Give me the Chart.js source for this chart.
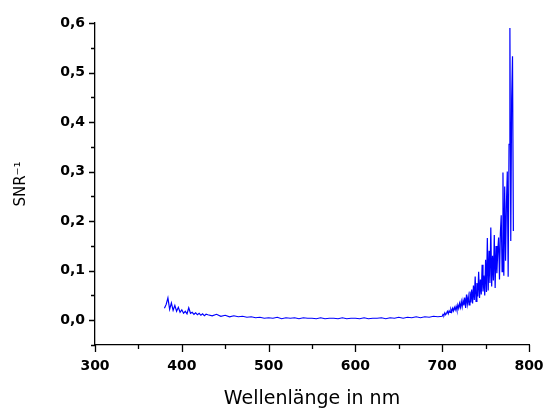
<!DOCTYPE html>
<html>
<head>
<meta charset="utf-8">
<title>SNR</title>
<script src="https://cdn.jsdelivr.net/npm/chart.js@4"></script>
<style>
    html, body { margin: 0; padding: 0; background: #fff; }
    #wrap { width: 547px; height: 410px; }
</style>
</head>
<body>
<div id="wrap"><canvas id="snrChart"></canvas></div>
<script>
// --- data ---
// blue edge: 2 nm steps
const waveStart = [380, 382, 384, 386, 388, 390, 392, 394, 396, 398, 400, 402, 404, 406, 408, 410, 412, 414, 416, 418, 420, 422, 424, 426, 428];
const snrStart  = [0.024, 0.032, 0.045, 0.022, 0.035, 0.020, 0.030, 0.018, 0.026, 0.016, 0.021, 0.014, 0.018, 0.013, 0.025, 0.014, 0.016, 0.012, 0.015, 0.011, 0.014, 0.010, 0.013, 0.009, 0.012];

// flat middle: 5 nm steps
const waveMid = [430, 435, 440, 445, 450, 455, 460, 465, 470, 475, 480, 485, 490, 495, 500, 505, 510, 515, 520, 525, 530, 535, 540, 545, 550, 555, 560, 565, 570, 575, 580, 585, 590, 595, 600, 605, 610, 615, 620, 625, 630, 635, 640, 645, 650, 655, 660, 665, 670, 675, 680, 685, 690, 695];
const snrMid  = [0.011, 0.009, 0.012, 0.008, 0.010, 0.007, 0.009, 0.007, 0.008, 0.006, 0.007, 0.005, 0.006, 0.004, 0.005, 0.004, 0.006, 0.003, 0.005, 0.004, 0.005, 0.003, 0.005, 0.004, 0.004, 0.003, 0.005, 0.003, 0.004, 0.004, 0.003, 0.005, 0.003, 0.004, 0.004, 0.003, 0.005, 0.003, 0.004, 0.004, 0.005, 0.003, 0.005, 0.004, 0.006, 0.004, 0.006, 0.005, 0.007, 0.005, 0.007, 0.006, 0.008, 0.007];

// red end: 1 nm steps, 700..782
const waveEnd = [700, 701, 702, 703, 704, 705, 706, 707, 708, 709, 710, 711, 712, 713, 714, 715, 716, 717, 718, 719, 720, 721, 722, 723, 724, 725, 726, 727, 728, 729, 730, 731, 732, 733, 734, 735, 736, 737, 738, 739, 740, 741, 742, 743, 744, 745, 746, 747, 748, 749, 750, 751, 752, 753, 754, 755, 756, 757, 758, 759, 760, 761, 762, 763, 764, 765, 766, 767, 768, 769, 770, 771, 772, 773, 774, 775, 776, 777, 778, 779, 780, 781, 782];
const snrEnd  = [0.008, 0.012, 0.010, 0.015, 0.011, 0.014, 0.018, 0.013, 0.019, 0.016, 0.022, 0.017, 0.024, 0.019, 0.026, 0.021, 0.028, 0.020, 0.031, 0.024, 0.034, 0.026, 0.038, 0.027, 0.040, 0.030, 0.046, 0.025, 0.052, 0.033, 0.048, 0.031, 0.058, 0.036, 0.062, 0.034, 0.070, 0.041, 0.088, 0.038, 0.075, 0.048, 0.098, 0.045, 0.082, 0.052, 0.112, 0.058, 0.090, 0.050, 0.122, 0.057, 0.166, 0.060, 0.140, 0.075, 0.187, 0.068, 0.130, 0.080, 0.172, 0.065, 0.150, 0.095, 0.140, 0.167, 0.082, 0.175, 0.212, 0.098, 0.298, 0.090, 0.270, 0.120, 0.235, 0.300, 0.088, 0.355, 0.590, 0.160, 0.445, 0.533, 0.180];

const xTitle = 'Wellenlänge in nm';
const yTitle = 'SNR⁻¹';

// --- build point list ---
const waves = [...waveStart, ...waveMid, ...waveEnd];
const snr = [...snrStart, ...snrMid, ...snrEnd];
const points = waves.map((w, i) => ({ x: w, y: snr[i] }));

// Origin-style tick marks: major + minor (halfway), pointing outward
const tickMarks = {
    id: 'tickMarks',
    afterDraw(chart) {
        const ctx = chart.ctx;
        const xs = chart.scales.x, ys = chart.scales.y;
        ctx.save();
        ctx.strokeStyle = '#000';
        ctx.lineWidth = 1.3;
        ctx.beginPath();
        // x axis
        const xv = xs.ticks.map(t => t.value);
        xv.forEach((v, i) => {
            const px = Math.round(xs.getPixelForValue(v)) + 0.5;
            ctx.moveTo(px, xs.top); ctx.lineTo(px, xs.top + 7);
            if (i < xv.length - 1) {
                const pm = Math.round(xs.getPixelForValue((v + xv[i + 1]) / 2)) + 0.5;
                ctx.moveTo(pm, xs.top); ctx.lineTo(pm, xs.top + 4);
            }
        });
        // y axis
        const yv = ys.ticks.map(t => t.value);
        yv.forEach((v, i) => {
            const py = Math.round(ys.getPixelForValue(v)) + 0.5;
            ctx.moveTo(ys.right, py); ctx.lineTo(ys.right - 6, py);
            const pm = Math.round(ys.getPixelForValue(v - 0.05)) + 0.5;
            ctx.moveTo(ys.right, pm); ctx.lineTo(ys.right - 4, pm);
        });
        ctx.stroke();
        ctx.restore();
    }
};

const ctx = document.getElementById('snrChart').getContext('2d');
new Chart(ctx, {
    type: 'line',
    data: {
        datasets: [{
            data: points,
            borderColor: '#0000ff',
            borderWidth: 1.2,
            pointRadius: 0,
            tension: 0,
            fill: false
        }]
    },
    options: {
        responsive: true,
        maintainAspectRatio: false,
        animation: false,
        layout: { padding: { top: 23, right: 18, left: 0, bottom: 0 } },
        plugins: { legend: { display: false }, tooltip: { enabled: false } },
        scales: {
            x: {
                type: 'linear',
                min: 300, max: 800,
                afterFit: s => { s.height = 65; s.paddingLeft = 0; s.paddingRight = 0; },
                grid: { display: false, drawTicks: false },
                border: { display: true, color: '#000', width: 1.3 },
                ticks: {
                    stepSize: 100,
                    padding: 13,
                    color: '#000',
                    font: { family: 'DejaVu Sans', size: 14, weight: 'bold' },
                    maxRotation: 0
                },
                title: {
                    display: true,
                    text: xTitle,
                    color: '#000',
                    font: { family: 'DejaVu Sans', size: 19 },
                    padding: { top: 4, bottom: 0 }
                }
            },
            y: {
                type: 'linear',
                min: -0.05, max: 0.6,
                afterFit: s => { s.width = 95; s.paddingTop = 0; s.paddingBottom = 0; },
                grid: { display: false, drawTicks: false },
                border: { display: true, color: '#000', width: 1.3 },
                ticks: {
                    stepSize: 0.1,
                    includeBounds: false,
                    padding: 10,
                    color: '#000',
                    font: { family: 'DejaVu Sans', size: 14, weight: 'bold' },
                    callback: v => v.toFixed(1).replace('.', ',')
                },
                title: {
                    display: true,
                    text: yTitle,
                    color: '#000',
                    font: { family: 'DejaVu Sans', size: 15 },
                    padding: { top: 12, bottom: 0 }
                }
            }
        }
    },
    plugins: [tickMarks]
});
</script>
</body>
</html>
